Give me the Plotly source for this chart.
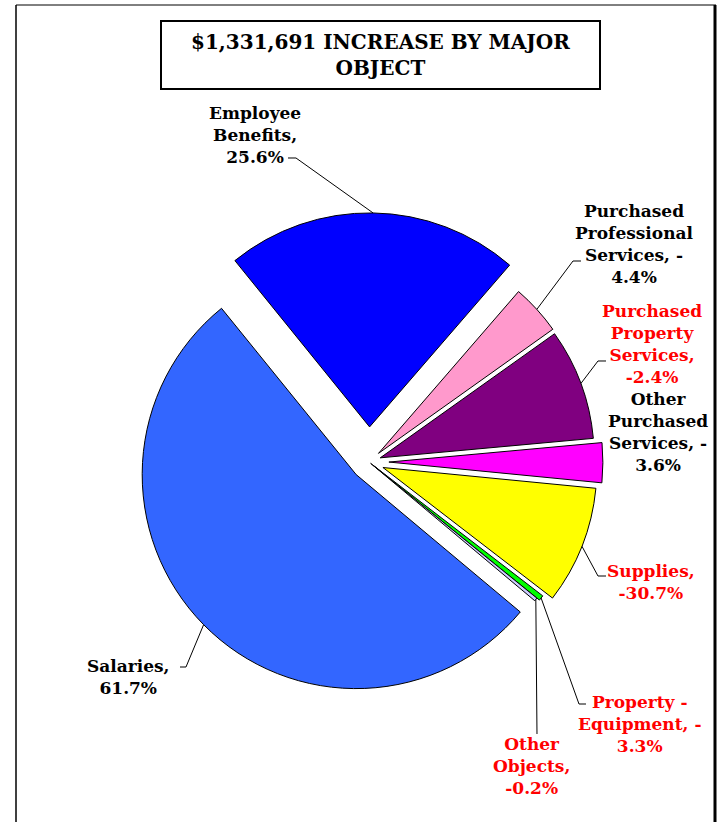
import math
import plotly.graph_objects as go

W, H = 717, 822

# ---------------- data ----------------
categories = ["Employee Benefits", "Purchased Professional Services",
              "Purchased Property Services", "Other Purchased Services",
              "Supplies", "Property - Equipment", "Other Objects", "Salaries"]
label_pct = ["25.6%", "-4.4%", "-2.4%", "-3.6%", "-30.7%", "-3.3%", "-0.2%", "61.7%"]
# slice sizes (share of the circle, %)
slice_share = [22.2, 3.8, 8.4, 3.0, 8.9, 0.40, 0.25, 53.1]
label_text = ["Employee<br>Benefits,<br>25.6%",
              "Purchased<br>Professional<br>Services, -<br>4.4%",
              "Purchased<br>Property<br>Services,<br>-2.4%",
              "Other<br>Purchased<br>Services, -<br>3.6%",
              "Supplies,<br>-30.7%",
              "Property -<br>Equipment, -<br>3.3%",
              "Other<br>Objects,<br>-0.2%",
              "Salaries,<br>61.7%"]
title_text = "$1,331,691 INCREASE BY MAJOR<br>OBJECT"

# ---------------- styles ----------------
colors = ["#0000FF", "#FF99CC", "#800080", "#FF00FF", "#FFFF00", "#00FF00", "#CCCCFF", "#3366FF"]
label_colors = ["#000000", "#000000", "#FF0000", "#000000", "#FF0000", "#FF0000", "#FF0000", "#000000"]
pulls = [0.164, 0.06, 0.056, 0.093, 0.07, 0.025, 0.01, 0.084]
rotation = -39

# pie geometry in pixels
CX, CY, R = 369, 462, 214
half = R * (1 + max(pulls))

def px(x):
    return x / W

def py(y):
    return 1 - y / H

fig = go.Figure(go.Pie(
    labels=categories, values=slice_share, sort=False, direction="clockwise",
    rotation=rotation, pull=pulls, textinfo="none", hoverinfo="label+percent",
    marker=dict(colors=colors, line=dict(color="#000000", width=1)),
    domain=dict(x=[px(CX - half), px(CX + half)], y=[py(CY + half), py(CY - half)]),
    showlegend=False,
))

# outer mid-point of each (pulled) slice, computed from the values
total = sum(slice_share)
start = 90 - rotation
outer = []
cum = 0
for v, p in zip(slice_share, pulls):
    mid = math.radians(start - (cum + v / 2) / total * 360)
    rr = R * (1 + p)
    outer.append((CX + rr * math.cos(mid), CY - rr * math.sin(mid)))
    cum += v

# label placement (pixels): text centre, leader start points (None = no leader)
label_pos = [(255, 135), (634, 244), (652, 344), (658, 432), (651, 582),
             (639, 724), (531, 766), (128, 677)]
leader_from = [[(288, 158), (296, 158)],
               [(581, 261), (573, 261)],
               [(606, 361), (598, 361)],
               None,
               [(606, 576), (598, 576)],
               [(586, 704), (579, 704)],
               [(537, 734)],
               [(180, 667), (186, 667)]]

shapes = []
annotations = []
for i in range(len(categories)):
    x, y = label_pos[i]
    annotations.append(dict(
        x=px(x), y=py(y), xref="paper", yref="paper", text=label_text[i],
        showarrow=False, xanchor="center", yanchor="middle", align="center",
        font=dict(family="DejaVu Serif", size=17, color=label_colors[i], weight="bold"),
    ))
    if leader_from[i]:
        pts = leader_from[i] + [outer[i]]
        path = "M " + " L ".join(f"{px(a):.5f},{py(b):.5f}" for a, b in pts)
        shapes.append(dict(type="path", path=path, xref="paper", yref="paper",
                           line=dict(color="#000000", width=1)))

# title box
shapes.append(dict(type="rect", xref="paper", yref="paper",
                   x0=px(161), x1=px(600), y0=py(89), y1=py(21),
                   line=dict(color="#000000", width=2), fillcolor="rgba(0,0,0,0)"))
annotations.append(dict(
    x=px(380), y=py(55), xref="paper", yref="paper", text=title_text,
    showarrow=False, xanchor="center", yanchor="middle", align="center",
    font=dict(family="DejaVu Serif", size=20, color="#000000", weight="bold"),
))

# outer frame (left, top, right)
shapes.append(dict(type="line", xref="paper", yref="paper", x0=px(16), x1=px(16), y0=0, y1=py(5),
                   line=dict(color="#404040", width=2)))
shapes.append(dict(type="line", xref="paper", yref="paper", x0=px(16), x1=px(716), y0=py(5), y1=py(5),
                   line=dict(color="#000000", width=1)))
shapes.append(dict(type="line", xref="paper", yref="paper", x0=px(715), x1=px(715), y0=0, y1=py(5),
                   line=dict(color="#000000", width=3)))

fig.update_layout(
    width=W, height=H, margin=dict(l=0, r=0, t=0, b=0),
    paper_bgcolor="#FFFFFF", plot_bgcolor="#FFFFFF",
    shapes=shapes, annotations=annotations,
)

fig.write_html("out.html", config={"displayModeBar": False},
               post_script="document.body.style.margin='0';document.body.style.overflow='hidden';")
